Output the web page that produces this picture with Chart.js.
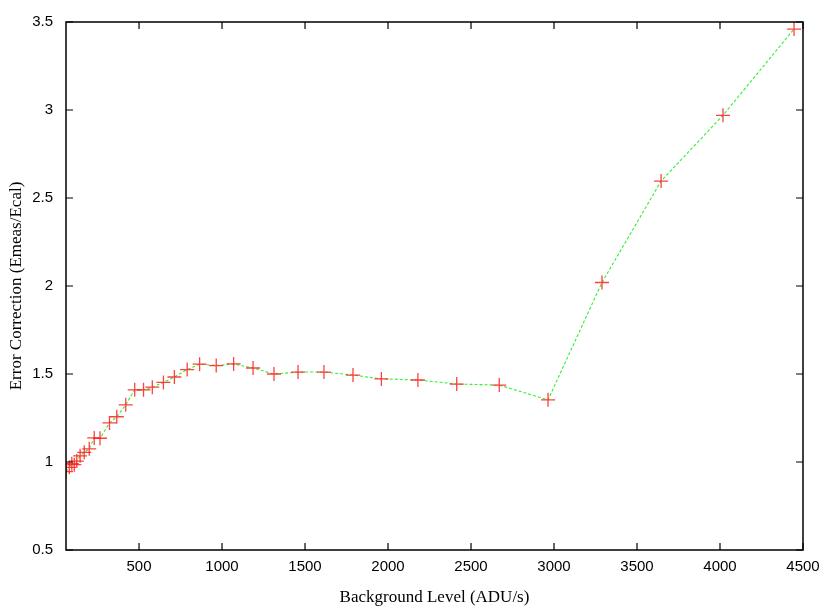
<!DOCTYPE html>
<html>
<head>
<meta charset="utf-8">
<script src="https://cdn.jsdelivr.net/npm/chart.js@4/dist/chart.umd.min.js"></script>
<style>
  html, body { margin: 0; padding: 0; background: #fff; }
  #wrap { width: 830px; height: 608px; }
</style>
</head>
<body>
<div id="wrap"><canvas id="chart" width="830" height="608"></canvas></div>
<script>
// background level (ADU/s)
const bgLevel = [60, 80, 95, 110, 125, 145, 170, 200, 230, 265, 322, 366, 420, 474, 527, 580,
  647, 713, 790, 865, 965, 1070, 1187, 1313, 1458, 1614, 1789, 1960, 2180, 2414, 2670, 2964,
  3289, 3645, 4018, 4446];
// error correction (Emeas/Ecal)
const errCorr = [0.945, 0.97, 0.99, 0.985, 1.005, 1.035, 1.055, 1.075, 1.137, 1.135, 1.222, 1.257,
  1.325, 1.41, 1.41, 1.425, 1.452, 1.483, 1.525, 1.556, 1.548, 1.557, 1.534, 1.50, 1.511, 1.511,
  1.494, 1.472, 1.466, 1.443, 1.437, 1.353, 2.02, 2.596, 2.97, 3.46];
const xTicks = [500, 1000, 1500, 2000, 2500, 3000, 3500, 4000, 4500];
const yTicks = [0.5, 1, 1.5, 2, 2.5, 3, 3.5];

const pts = bgLevel.map((x, i) => ({ x: x, y: errCorr[i] }));

// frame + inward ticks on all four sides, gnuplot style
const framePlugin = {
  id: 'frame',
  afterDraw(chart) {
    const { ctx, chartArea: a, scales } = chart;
    ctx.save();
    ctx.strokeStyle = '#000';
    ctx.lineWidth = 1.5;
    ctx.strokeRect(a.left, a.top, a.right - a.left, a.bottom - a.top);
    ctx.lineWidth = 1.2;
    ctx.beginPath();
    for (const v of xTicks) {
      const px = scales.x.getPixelForValue(v);
      ctx.moveTo(px, a.bottom); ctx.lineTo(px, a.bottom - 7);
      ctx.moveTo(px, a.top); ctx.lineTo(px, a.top + 7);
    }
    for (const v of yTicks) {
      const py = scales.y.getPixelForValue(v);
      ctx.moveTo(a.left, py); ctx.lineTo(a.left + 7, py);
      ctx.moveTo(a.right, py); ctx.lineTo(a.right - 7, py);
    }
    ctx.stroke();
    ctx.restore();
  }
};

new Chart(document.getElementById('chart'), {
  type: 'scatter',
  data: {
    datasets: [
      {
        data: pts,
        showLine: true,
        borderColor: '#33ee33',
        borderWidth: 1.1,
        borderDash: [3, 2],
        pointRadius: 0,
        fill: false,
        order: 2
      },
      {
        data: pts,
        showLine: false,
        pointStyle: 'cross',
        pointRadius: 7,
        pointBorderColor: 'rgba(255,30,30,0.85)',
        pointBorderWidth: 1.3,
        order: 1
      }
    ]
  },
  options: {
    responsive: false,
    animation: false,
    layout: { padding: { left: 6, top: 18, right: 27, bottom: 0 } },
    plugins: { legend: { display: false }, tooltip: { enabled: false } },
    scales: {
      x: {
        type: 'linear',
        min: 60,
        max: 4500,
        afterBuildTicks: s => { s.ticks = xTicks.map(v => ({ value: v })); },
        afterFit: s => { s.height = 58; },
        grid: { display: false, drawTicks: false },
        border: { display: false },
        ticks: {
          color: '#000',
          padding: 8,
          maxRotation: 0,
          callback: v => String(v),
          font: { family: 'Liberation Sans', size: 15 }
        },
        title: {
          display: true,
          text: 'Background Level (ADU/s)',
          color: '#000',
          padding: { top: 10, bottom: 0 },
          font: { family: 'Liberation Serif', size: 17 }
        }
      },
      y: {
        min: 0.5,
        max: 3.5,
        afterBuildTicks: s => { s.ticks = yTicks.map(v => ({ value: v })); },
        afterFit: s => { s.width = 60; },
        grid: { display: false, drawTicks: false },
        border: { display: false },
        ticks: {
          color: '#000',
          padding: 13,
          callback: v => String(v),
          font: { family: 'Liberation Sans', size: 15 }
        },
        title: {
          display: true,
          text: 'Error Correction (Emeas/Ecal)',
          color: '#000',
          padding: { top: 0, bottom: 0 },
          font: { family: 'Liberation Serif', size: 17 }
        }
      }
    }
  },
  plugins: [framePlugin]
});
</script>
</body>
</html>
